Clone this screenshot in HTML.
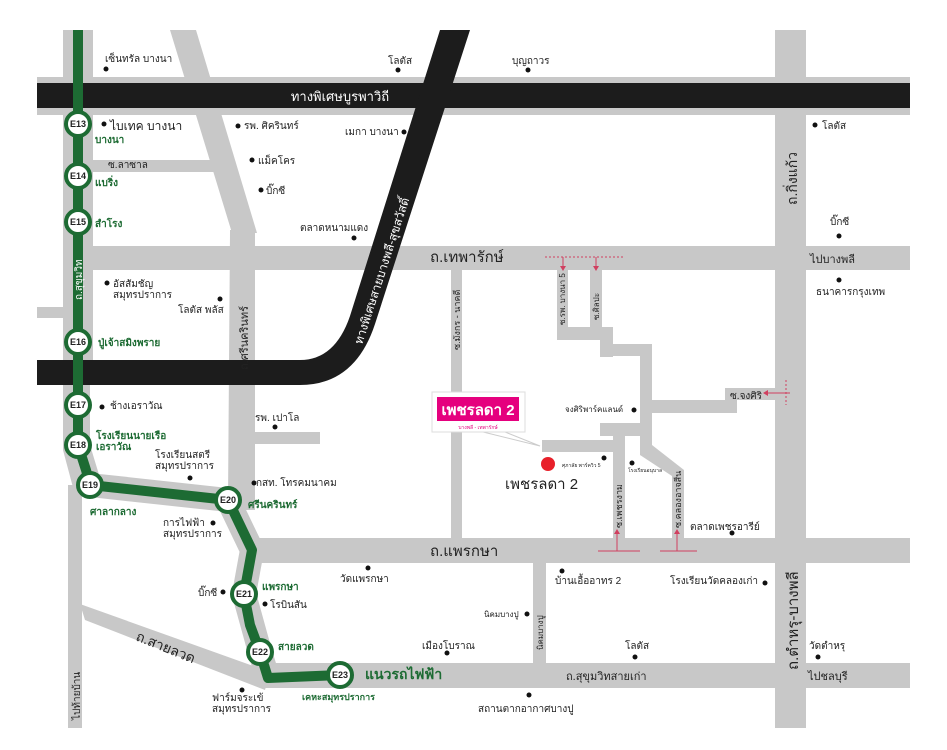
<!DOCTYPE html>
<html><head><meta charset="utf-8"><style>
html,body{margin:0;padding:0;background:#fff}
svg{display:block}
text{font-family:"Liberation Sans","DejaVu Sans",sans-serif;fill:#222}
.s{font-size:11px}
.g{fill:#1d6b33;font-size:10px;font-weight:bold}
.st{font-size:9px;font-weight:bold;fill:#222}
</style></head><body>
<svg width="947" height="750" viewBox="0 0 947 750" xmlns="http://www.w3.org/2000/svg">
<g fill="#c8c8c8" stroke="none">
  <rect x="37" y="77" width="873" height="38"/>
  <rect x="63" y="30" width="30" height="345"/>
  <polygon points="63,370 90,370 90,445 100,478 88,495 75,495 63,450"/>
  <rect x="68" y="485" width="14" height="243"/>
  <rect x="37" y="307" width="26" height="11"/>
  <rect x="93" y="160" width="122" height="12"/>
  <polygon points="170,30 196,30 257,233 252,233 252,500 228,500 230,233 232,233"/>
  <rect x="230" y="230" width="25" height="280"/>
  <rect x="93" y="246" width="817" height="24"/>
  <rect x="775" y="30" width="31" height="698"/>
  <rect x="245" y="432" width="75" height="12"/>
  <rect x="255" y="538" width="655" height="25"/>
  <rect x="262" y="663" width="648" height="25"/>
  <rect x="533" y="563" width="13" height="100"/>
  <rect x="451" y="270" width="11" height="268"/>
  <rect x="557" y="270" width="11" height="70"/>
  <rect x="590" y="270" width="12" height="70"/>
  <rect x="557" y="327" width="45" height="13"/>
  <rect x="600" y="327" width="13" height="30"/>
  <rect x="600" y="344" width="52" height="12"/>
  <rect x="640" y="344" width="12" height="108"/>
  <polygon points="640,445 652,445 684,470 684,538 672,538 672,476 640,455"/>
  <rect x="652" y="400" width="83" height="13"/>
  <rect x="725" y="388" width="12" height="25"/>
  <rect x="725" y="388" width="50" height="12"/>
  <rect x="600" y="423" width="40" height="13"/>
  <rect x="613" y="423" width="12" height="115"/>
  <rect x="542" y="440" width="71" height="12"/>
  <polyline points="90,485 228,500 252,550 244,594 260,652 268,678" fill="none" stroke="#c8c8c8" stroke-width="24" stroke-linejoin="round"/>
  <polygon points="80,604 85,620 265,690 270,672"/>
</g>
<rect x="37" y="83" width="873" height="25" fill="#1c1c1c"/>
<path d="M440,30 L470,30 L375,324 Q355,385 300,385 L37,385 L37,360 L300,360 Q335,360 350,316 Z" fill="#1c1c1c"/>
<polyline points="78,30 78,445 86,470 90,485 228,500 252,550 244,594 250,625 260,652 268,678 340,675" fill="none" stroke="#1d6b33" stroke-width="10" stroke-linejoin="round"/>
<g fill="#fff" stroke="#1d6b33" stroke-width="4">
<circle cx="78" cy="124" r="12"/><circle cx="78" cy="176" r="12"/><circle cx="78" cy="222" r="12"/><circle cx="78" cy="342" r="12"/><circle cx="78" cy="405" r="12"/><circle cx="78" cy="445" r="12"/><circle cx="90" cy="485" r="12"/><circle cx="228" cy="500" r="12"/><circle cx="244" cy="594" r="12"/><circle cx="260" cy="652" r="12"/><circle cx="340" cy="675" r="12"/>
</g>
<g class="st" text-anchor="middle">
<text x="78" y="127" class="st">E13</text><text x="78" y="179" class="st">E14</text><text x="78" y="225" class="st">E15</text><text x="78" y="345" class="st">E16</text><text x="78" y="408" class="st">E17</text><text x="78" y="448" class="st">E18</text><text x="90" y="488" class="st">E19</text><text x="228" y="503" class="st">E20</text><text x="244" y="597" class="st">E21</text><text x="260" y="655" class="st">E22</text><text x="340" y="678" class="st">E23</text>
</g>
<text x="340" y="101" style="fill:#fff;font-size:13px" text-anchor="middle">ทางพิเศษบูรพาวิถี</text>
<text x="108" y="168" class="s" style="font-size:10px">ซ.ลาซาล</text>
<text x="430" y="262" style="font-size:15px">ถ.เทพารักษ์</text>
<text x="430" y="556" style="font-size:15px">ถ.แพรกษา</text>
<text x="566" y="680" class="s">ถ.สุขุมวิทสายเก่า</text>
<text x="810" y="263" class="s">ไปบางพลี</text>
<text x="808" y="680" class="s">ไปชลบุรี</text>
<text transform="translate(82,300) rotate(-90)" style="fill:#fff;font-size:10px">ถ.สุขุมวิท</text>
<text transform="translate(248,370) rotate(-90)" class="s">ถ.ศรีนครินทร์</text>
<text transform="translate(362,345) rotate(-72)" style="fill:#fff;font-size:12px">ทางพิเศษสายบางพลี-สุขสวัสดิ์</text>
<text transform="translate(460,350) rotate(-90)" style="font-size:9px">ซ.มังกร - นาคดี</text>
<text transform="translate(565,325) rotate(-90)" style="font-size:8px">ซ.รพ. บางนา 5</text>
<text transform="translate(599,320) rotate(-90)" style="font-size:8px">ซ.ศิลปะ</text>
<text transform="translate(622,528) rotate(-90)" style="font-size:9px">ซ.เพชรงาม</text>
<text transform="translate(681,528) rotate(-90)" style="font-size:9px">ซ.คลองอาจสีน</text>
<text transform="translate(797,205) rotate(-90)" style="font-size:14px">ถ.กิ่งแก้ว</text>
<text transform="translate(798,670) rotate(-90)" style="font-size:15px">ถ.ตำหรุ-บางพลี</text>
<text transform="translate(543,650) rotate(-90)" style="font-size:8px">นิคมบางปู</text>
<text transform="translate(80,720) rotate(-90)" style="font-size:10px">ไปท้ายบ้าน</text>
<text transform="translate(135,640) rotate(22)" style="font-size:14px">ถ.สายลวด</text>
<text x="730" y="399" style="font-size:10px">ซ.จงศิริ</text>
<text x="95" y="143" class="g">บางนา</text><text x="95" y="186" class="g">แบริ่ง</text><text x="95" y="227" class="g">สำโรง</text><text x="98" y="346" class="g">ปู่เจ้าสมิงพราย</text>
<text x="96" y="439" class="g">โรงเรียนนายเรือ</text><text x="96" y="450" class="g">เอราวัณ</text>
<text x="90" y="515" class="g">ศาลากลาง</text><text x="248" y="508" class="g">ศรีนครินทร์</text><text x="262" y="590" class="g">แพรกษา</text><text x="278" y="650" class="g">สายลวด</text>
<text x="365" y="679" style="fill:#1d6b33;font-size:14px;font-weight:bold">แนวรถไฟฟ้า</text>
<text x="302" y="700" class="g" style="font-size:9px">เคหะสมุทรปราการ</text>
<g fill="#111">
<circle cx="106" cy="69" r="2.5"/><circle cx="398" cy="70" r="2.5"/><circle cx="528" cy="70" r="2.5"/><circle cx="104" cy="124" r="2.5"/><circle cx="238" cy="126" r="2.5"/><circle cx="404" cy="132" r="2.5"/><circle cx="252" cy="160" r="2.5"/><circle cx="261" cy="190" r="2.5"/><circle cx="354" cy="238" r="2.5"/><circle cx="815" cy="125" r="2.5"/><circle cx="839" cy="236" r="2.5"/><circle cx="839" cy="280" r="2.5"/><circle cx="107" cy="283" r="2.5"/><circle cx="220" cy="299" r="2.5"/><circle cx="102" cy="407" r="2.5"/><circle cx="275" cy="427" r="2.5"/><circle cx="190" cy="478" r="2.5"/><circle cx="254" cy="483" r="2.5"/><circle cx="213" cy="523" r="2.5"/><circle cx="368" cy="568" r="2.5"/><circle cx="223" cy="592" r="2.5"/><circle cx="265" cy="604" r="2.5"/><circle cx="447" cy="653" r="2.5"/><circle cx="242" cy="690" r="2.5"/><circle cx="634" cy="410" r="2.5"/><circle cx="604" cy="458" r="2.5"/><circle cx="632" cy="463" r="2.5"/><circle cx="732" cy="533" r="2.5"/><circle cx="562" cy="571" r="2.5"/><circle cx="765" cy="583" r="2.5"/><circle cx="527" cy="614" r="2.5"/><circle cx="635" cy="657" r="2.5"/><circle cx="818" cy="657" r="2.5"/><circle cx="529" cy="695" r="2.5"/>
</g>
<g class="s" style="font-size:10px">
<text x="105" y="62">เซ็นทรัล บางนา</text><text x="388" y="64">โลตัส</text><text x="512" y="64">บุญถาวร</text>
<text x="110" y="130" style="font-size:12px">ไบเทค บางนา</text><text x="244" y="129">รพ. ศิครินทร์</text><text x="345" y="135">เมกา บางนา</text>
<text x="258" y="164">แม็คโคร</text><text x="266" y="194">บิ๊กซี</text><text x="300" y="231">ตลาดหนามแดง</text>
<text x="822" y="129">โลตัส</text><text x="830" y="225">บิ๊กซี</text><text x="816" y="295">ธนาคารกรุงเทพ</text>
<text x="113" y="287">อัสสัมชัญ</text><text x="113" y="298">สมุทรปราการ</text><text x="178" y="313">โลตัส พลัส</text>
<text x="110" y="409">ช้างเอราวัณ</text><text x="255" y="421">รพ. เปาโล</text>
<text x="155" y="458">โรงเรียนสตรี</text><text x="155" y="469">สมุทรปราการ</text><text x="256" y="486">กสท. โทรคมนาคม</text>
<text x="163" y="526">การไฟฟ้า</text><text x="163" y="537">สมุทรปราการ</text>
<text x="340" y="582">วัดแพรกษา</text><text x="198" y="596">บิ๊กซี</text><text x="270" y="608">โรบินสัน</text>
<text x="422" y="649">เมืองโบราณ</text><text x="212" y="701">ฟาร์มจระเข้</text><text x="212" y="712">สมุทรปราการ</text>
<text x="478" y="712">สถานตากอากาศบางปู</text>
<text x="565" y="412" style="font-size:8px">จงศิริพาร์คแลนด์</text>
<text x="555" y="584">บ้านเอื้ออาทร 2</text><text x="670" y="584">โรงเรียนวัดคลองเก่า</text>
<text x="484" y="617" style="font-size:8px">นิคมบางปู</text><text x="625" y="649">โลตัส</text><text x="809" y="649">วัดตำหรุ</text>
<text x="690" y="530">ตลาดเพชรอารีย์</text>
</g>
<text x="562" y="467" style="font-size:5px">ศุภาลัย พาร์ควิว 5</text>
<text x="628" y="472" style="font-size:5px">โรงเรียนอนุบาล</text>
<polygon points="475,430 500,430 540,446" fill="#fff" stroke="#ccc" stroke-width="1"/>
<rect x="432" y="392" width="93" height="40" fill="#fff" stroke="#ddd"/>
<rect x="436" y="396" width="84" height="26" fill="#e5007e" stroke="#fff" stroke-width="2"/>
<text x="478" y="415" text-anchor="middle" style="fill:#fff;font-size:15px;font-weight:bold">เพชรลดา 2</text>
<text x="478" y="429" text-anchor="middle" style="fill:#e5007e;font-size:5px">บางพลี - เทพารักษ์</text>
<circle cx="548" cy="464" r="7" fill="#e8202a"/>
<text x="505" y="489" style="font-size:15px">เพชรลดา 2</text>
<g stroke="#d04060" stroke-width="1" fill="none">
<line x1="545" y1="257" x2="625" y2="257" stroke-dasharray="2,2"/>
<line x1="563" y1="257" x2="563" y2="268"/><line x1="596" y1="257" x2="596" y2="268"/>
<line x1="598" y1="551" x2="640" y2="551"/><line x1="660" y1="551" x2="697" y2="551"/>
<line x1="617" y1="551" x2="617" y2="532"/><line x1="677" y1="551" x2="677" y2="532"/>
<line x1="765" y1="393" x2="790" y2="393"/><line x1="786" y1="380" x2="786" y2="405" stroke-dasharray="2,2"/>
</g>
<g fill="#d04060">
<polygon points="560,266 566,266 563,271"/><polygon points="593,266 599,266 596,271"/>
<polygon points="614,534 620,534 617,529"/><polygon points="674,534 680,534 677,529"/>
<polygon points="768,390 768,396 763,393"/>
</g>
</svg>
</body></html>
